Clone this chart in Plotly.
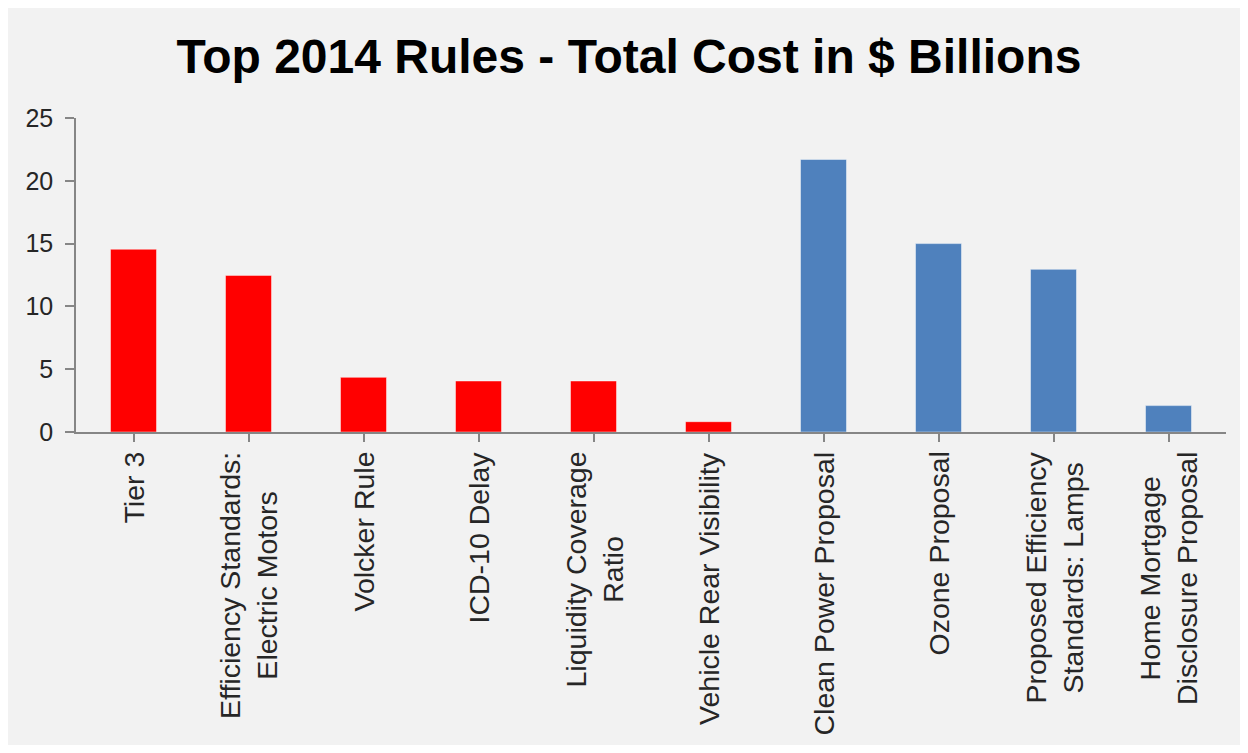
import plotly.graph_objects as go

categories = [
    "Tier 3",
    "Efficiency Standards:<br>Electric Motors",
    "Volcker Rule",
    "ICD-10 Delay",
    "Liquidity Coverage<br>Ratio",
    "Vehicle Rear Visibility",
    "Clean Power Proposal",
    "Ozone Proposal",
    "Proposed Efficiency<br>Standards: Lamps",
    "Home Mortgage<br>Disclosure Proposal",
]
costs = [14.55, 12.47, 4.35, 4.06, 4.06, 0.82, 21.7, 15.0, 12.95, 2.1]
status = ["final"] * 6 + ["proposed"] * 4
status_colors = {"final": "#FF0000", "proposed": "#4F81BD"}
y_ticks = [0, 5, 10, 15, 20, 25]
title_text = "Top 2014 Rules - Total Cost in $ Billions"

FONT = "Liberation Sans, Arial, sans-serif"
AXIS = "#868686"

fig = go.Figure()
fig.add_trace(go.Bar(
    x=list(range(len(categories))),
    y=costs,
    width=0.4,
    marker=dict(color=[status_colors[s] for s in status],
                line=dict(color="rgba(255,255,255,0.45)", width=1)),
    hoverinfo="x+y",
))

for i, lab in enumerate(categories):
    fig.add_annotation(
        x=i, xref="x", y=0, yref="y", yshift=-18,
        text=lab, textangle=-90, showarrow=False,
        xanchor="center", yanchor="top", align="center",
        font=dict(family=FONT, size=28.5, color="#262626"),
    )

fig.update_layout(
    width=1233, height=737,
    margin=dict(l=68, r=15, t=110, b=313),
    paper_bgcolor="#f2f2f2", plot_bgcolor="#f2f2f2",
    showlegend=False,
    title=dict(text=f"<b>{title_text}</b>", x=0.5036, xref="container",
               xanchor="center", y=1 - 31 / 737, yref="container", yanchor="top",
               font=dict(family=FONT, size=48, color="#000000")),
    xaxis=dict(
        range=[-0.5, len(categories) - 0.5],
        tickmode="array", tickvals=list(range(len(categories))),
        showticklabels=False, tickson="boundaries",
        ticks="outside", ticklen=8, tickwidth=1.5, tickcolor=AXIS,
        showline=True, linecolor=AXIS, linewidth=1.5,
        showgrid=False, zeroline=False,
    ),
    yaxis=dict(
        range=[0, 25], tickvals=y_ticks,
        ticks="outside", ticklen=9, tickwidth=1.5, tickcolor=AXIS,
        showline=True, linecolor=AXIS, linewidth=1.5,
        showgrid=False, zeroline=False,
        ticklabelstandoff=7,
        tickfont=dict(family=FONT, size=25, color="#262626"),
    ),
)

fig.write_html("out.html")
